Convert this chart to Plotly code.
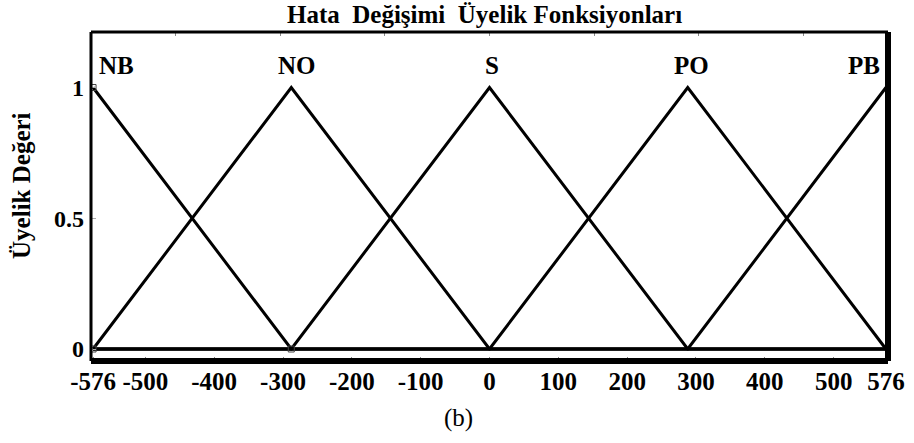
import plotly.graph_objects as go

# ---- data ----
title_text = "Hata  Değişimi  Üyelik Fonksiyonları"
y_title = "Üyelik Değeri"
mf_names = ["NB", "NO", "S", "PO", "PB"]
mf_peaks = [-576, -288, 0, 288, 576]

nb_x = [-576, -288, 576]
nb_y = [1, 0, 0]
no_x = [-576, -288, 0, 576]
no_y = [0, 1, 0, 0]
s_x = [-576, -288, 0, 288, 576]
s_y = [0, 0, 1, 0, 0]
po_x = [-576, 0, 288, 576]
po_y = [0, 0, 1, 0]
pb_x = [-576, 288, 576]
pb_y = [0, 0, 1]

x_tickvals = [-576, -500, -400, -300, -200, -100, 0, 100, 200, 300, 400, 500, 576]
x_ticktext = ["-576", "-500", "-400", "-300", "-200", "-100", "0", "100", "200", "300", "400", "500", "576"]
top_tickvals = [-456, -304, -152, 0, 152, 304, 456]
y_tickvals = [0, 0.5, 1]
y_ticktext = ["0", "0.5", "1"]
marker_x = [-576, -288, -576]
marker_y = [1, 0, 0]

caption = "(b)"

SERIF = "Liberation Serif, Times New Roman, serif"

fig = go.Figure()
for xs, ys in [(nb_x, nb_y), (no_x, no_y), (s_x, s_y), (po_x, po_y), (pb_x, pb_y)]:
    fig.add_trace(go.Scatter(x=xs, y=ys, mode="lines",
                             line=dict(color="black", width=3),
                             showlegend=False, hoverinfo="skip"))

fig.add_trace(go.Scatter(x=marker_x, y=marker_y, mode="markers",
                         marker=dict(symbol="square-open", size=6, color="#444",
                                     line=dict(width=1)),
                         showlegend=False, hoverinfo="skip"))

# invisible trace for the top tick axis
fig.add_trace(go.Scatter(x=[0], y=[0.5], xaxis="x2", mode="markers",
                         marker=dict(opacity=0), showlegend=False, hoverinfo="skip"))

xr = [-579, 579]
fig.update_layout(
    width=914, height=443,
    margin=dict(l=91, r=26, t=32, b=82, autoexpand=False),
    paper_bgcolor="white", plot_bgcolor="white",
    xaxis=dict(range=xr, tickvals=x_tickvals, ticktext=x_ticktext, automargin=False,
               ticks="inside", ticklen=4, tickwidth=1, tickcolor="#888",
               showgrid=False, zeroline=False, showline=False,
               tickfont=dict(family=SERIF, size=25, color="black", weight="bold"),
               ticklabelstandoff=3),
    xaxis2=dict(range=xr, overlaying="x", side="top", tickvals=top_tickvals, automargin=False,
                ticks="inside", ticklen=4, tickwidth=1, tickcolor="#888",
                showticklabels=False, showgrid=False, zeroline=False, showline=False),
    yaxis=dict(range=[-0.0459, 1.2122], tickvals=y_tickvals, ticktext=y_ticktext, automargin=False,
               ticks="inside", ticklen=5, tickwidth=1, tickcolor="#aaa",
               showgrid=False, zeroline=False, showline=False,
               tickfont=dict(family=SERIF, size=24, color="black", weight="bold"),
               ticklabelstandoff=6),
)

# frame
frame = [
    (0, 0, 0, 1, 3),   # left
    (0, 1, 1, 1, 3),   # top
    (1, 0, 1, 1, 6),   # right
    (0, 0, 1, 0, 6),   # bottom
]
for x0, y0, x1, y1, w in frame:
    fig.add_shape(type="line", xref="paper", yref="paper", x0=x0, y0=y0, x1=x1, y1=y1,
                  line=dict(color="black", width=w), layer="above")

# MF labels above peaks
label_anchor = ["left", "center", "center", "center", "right"]
label_shift = [4, 6, 2, 4, -4]
for name, px, anc, sh in zip(mf_names, mf_peaks, label_anchor, label_shift):
    fig.add_annotation(x=px, y=1.085, xref="x", yref="y", text=name, showarrow=False,
                       xanchor=anc, yanchor="middle", xshift=sh,
                       font=dict(family=SERIF, size=25, color="black", weight="bold"))

# title
fig.add_annotation(x=0.494, y=1.0547, xref="paper", yref="paper", text=title_text,
                   showarrow=False, xanchor="center", yanchor="middle",
                   font=dict(family=SERIF, size=25, color="black", weight="bold"))

# y title
fig.add_annotation(x=-0.0866, y=0.535, xref="paper", yref="paper", text=y_title,
                   textangle=-90, showarrow=False, xanchor="center", yanchor="middle",
                   font=dict(family=SERIF, size=25, color="black", weight="bold"))

# caption
fig.add_annotation(x=0.4605, y=-0.173, xref="paper", yref="paper", text=caption,
                   showarrow=False, xanchor="center", yanchor="middle",
                   font=dict(family=SERIF, size=25, color="black"))

fig.write_html("out.html", config={"displayModeBar": False},
               post_script="document.body.style.margin='0';")
